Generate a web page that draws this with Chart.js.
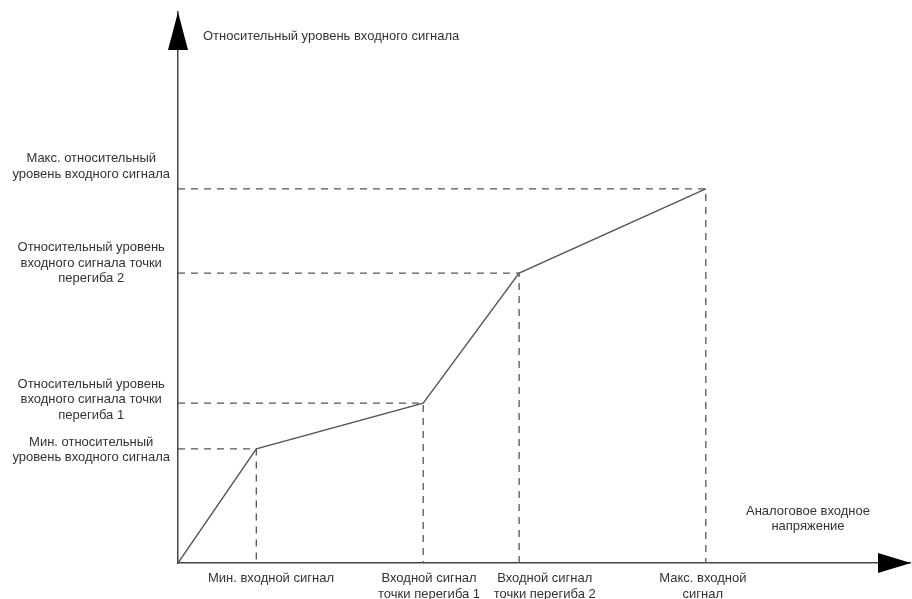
<!DOCTYPE html>
<html lang="ru">
<head>
    <meta charset="UTF-8">
    <title>Кривая входного сигнала</title>
    <script src="https://cdn.jsdelivr.net/npm/chart.js"></script>
    <style>
        body { margin: 0; background: #fff; }
        .chart-box { position: relative; width: 912px; height: 599px; }
    </style>
</head>
<body>
    <div class="chart-box">
        <canvas id="curveChart"></canvas>
    </div>

    <script>
        // input voltage (x) and relative level (y), axis units 0..10
        const xPoints = [0, 1.07, 3.35, 4.66, 7.21];
        const yPoints = [0, 2.07, 2.90, 5.26, 6.79];

        // labels are not centred exactly on the dash lines in the original
        const xTickValues = [1.27, 3.43, 5.01, 7.17];
        const xTickLabels = [
            ['Мин. входной сигнал'],
            ['Входной сигнал', 'точки перегиба 1'],
            ['Входной сигнал', 'точки перегиба 2'],
            ['Макс. входной', 'сигнал']
        ];
        const yTickValues = [2.05, 2.96, 5.44, 7.20];
        const yTickLabels = [
            ['Мин. относительный', 'уровень входного сигнала'],
            ['Относительный уровень', 'входного сигнала точки', 'перегиба 1'],
            ['Относительный уровень', 'входного сигнала точки', 'перегиба 2'],
            ['Макс. относительный', 'уровень входного сигнала']
        ];
        const xTitle = ['Аналоговое входное', 'напряжение'];
        const yTitle = 'Относительный уровень входного сигнала';

        const lineColor = '#555';
        const textColor = '#333';
        const font = { family: 'Liberation Sans, Arial, sans-serif', size: 13 };

        // dashed guides: axis -> break point -> axis
        const guideSets = xPoints.slice(1).map((xv, i) => ({
            data: [{ x: 0, y: yPoints[i + 1] }, { x: xv, y: yPoints[i + 1] }, { x: xv, y: 0 }],
            borderColor: lineColor,
            borderWidth: 1.3,
            borderDash: [7, 6],
            pointRadius: 0,
            showLine: true,
            fill: false
        }));

        const arrowsPlugin = {
            id: 'arrows',
            afterDraw(chart) {
                const ctx = chart.ctx;
                const ox = chart.scales.x.getPixelForValue(0);
                const oy = chart.scales.y.getPixelForValue(0);
                const area = chart.chartArea;
                ctx.save();
                ctx.fillStyle = '#000';
                // y arrow
                ctx.beginPath();
                ctx.moveTo(ox, area.top);
                ctx.lineTo(ox + 10, area.top + 38);
                ctx.lineTo(ox - 10, area.top + 38);
                ctx.closePath();
                ctx.fill();
                // x arrow
                ctx.beginPath();
                ctx.moveTo(area.right + 1, oy);
                ctx.lineTo(area.right - 32, oy - 10);
                ctx.lineTo(area.right - 32, oy + 10);
                ctx.closePath();
                ctx.fill();

                ctx.fillStyle = textColor;
                ctx.font = font.size + 'px ' + font.family;
                ctx.textBaseline = 'middle';
                ctx.textAlign = 'left';
                ctx.fillText(yTitle, ox + 25, area.top + 24);
                ctx.textAlign = 'center';
                xTitle.forEach((t, i) => ctx.fillText(t, 808, oy - 52 + i * 15));
                ctx.restore();
            }
        };

        new Chart(document.getElementById('curveChart'), {
            type: 'scatter',
            data: {
                datasets: [{
                    data: xPoints.map((x, i) => ({ x: x, y: yPoints[i] })),
                    borderColor: lineColor,
                    borderWidth: 1.4,
                    pointRadius: 0,
                    showLine: true,
                    fill: false
                }, ...guideSets]
            },
            options: {
                responsive: true,
                maintainAspectRatio: false,
                animation: false,
                layout: { padding: { top: 12, right: 2, left: 0, bottom: 0 } },
                plugins: { legend: { display: false }, tooltip: { enabled: false } },
                scales: {
                    x: {
                        type: 'linear', min: 0, max: 10,
                        grid: { display: false, drawTicks: false },
                        border: { display: true, color: '#444', width: 1.5 },
                        afterFit: s => { s.height = 36; s.paddingLeft = 0; s.paddingRight = 0; },
                        afterBuildTicks: s => { s.ticks = xTickValues.map(v => ({ value: v })); },
                        ticks: {
                            autoSkip: false, maxRotation: 0, padding: 8,
                            color: textColor, font: font,
                            callback: (v, i) => xTickLabels[i]
                        }
                    },
                    y: {
                        type: 'linear', min: 0, max: 10,
                        grid: { display: false, drawTicks: false },
                        border: { display: true, color: '#444', width: 1.5 },
                        afterFit: s => { s.width = 178; s.paddingTop = 0; s.paddingBottom = 0; },
                        afterBuildTicks: s => { s.ticks = yTickValues.map(v => ({ value: v })); },
                        ticks: {
                            autoSkip: false, padding: 8, crossAlign: 'center',
                            color: textColor, font: font,
                            callback: (v, i) => yTickLabels[i]
                        }
                    }
                }
            },
            plugins: [arrowsPlugin]
        });
    </script>
</body>
</html>
